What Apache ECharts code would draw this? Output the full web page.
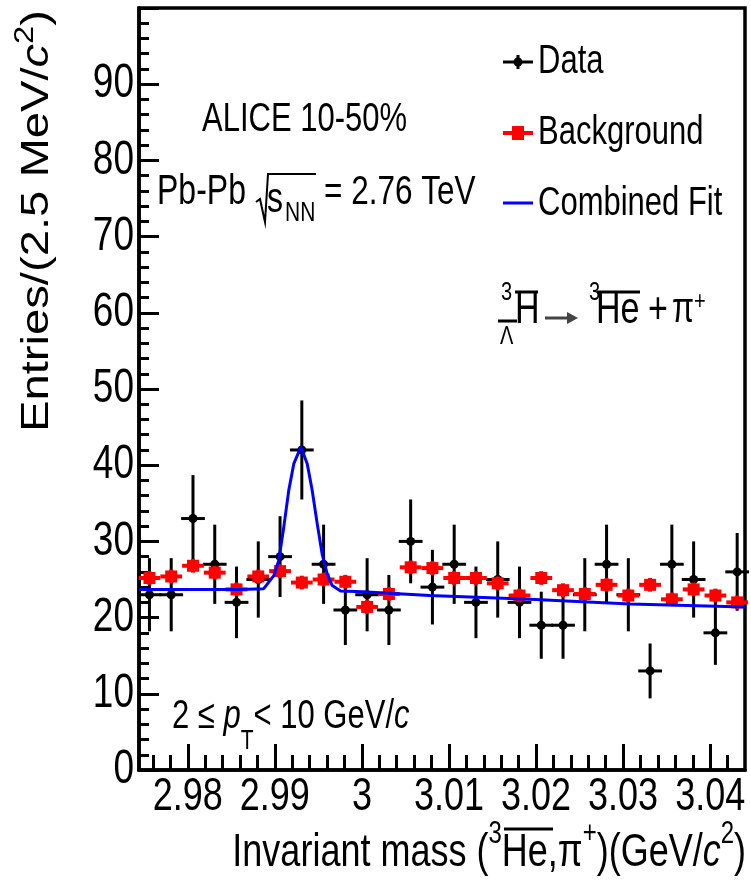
<!DOCTYPE html>
<html><head><meta charset="utf-8">
<script src="https://cdn.jsdelivr.net/npm/echarts@6/dist/echarts.min.js"></script>
<style>html,body{margin:0;padding:0;background:#fff}#c{width:751px;height:880px}</style>
</head><body><div id="c"></div>
<script>
// ---- data ----
const xCenters = [2.9756, 2.9781, 2.9806, 2.9831, 2.9856, 2.9881, 2.9906, 2.9931, 2.9956, 2.9981,
  3.0006, 3.0031, 3.0056, 3.0081, 3.0106, 3.0131, 3.0156, 3.0181, 3.0206, 3.0231,
  3.0256, 3.0281, 3.0306, 3.0331, 3.0356, 3.0381, 3.0406, 3.0431];
const dataCounts = [23, 23, 33, 27, 22, 25, 28, 42, 27, 21, 23, 21, 30, 24, 27, 22, 25, 22, 19, 19,
  23, 27, 23, 13, 27, 25, 18, 26];
const dataErr = [4.8, 4.8, 5.7, 5.2, 4.7, 5.0, 5.3, 6.5, 5.2, 4.6, 4.8, 4.6, 5.5, 4.9, 5.2, 4.7,
  5.0, 4.7, 4.4, 4.4, 4.8, 5.2, 4.8, 3.6, 5.2, 5.0, 4.2, 5.1];
const bkgValues = [25.2, 25.4, 26.8, 25.9, 23.7, 25.4, 26.1, 24.6, 25.0, 24.7, 21.4, 23.1, 26.6, 26.5,
  25.2, 25.2, 24.5, 22.9, 25.2, 23.6, 23.1, 24.3, 22.9, 24.3, 22.4, 23.7, 22.9, 22.0];
const bkgErr = [0.9, 0.9, 0.9, 0.9, 0.9, 0.9, 0.9, 0.9, 0.9, 0.9, 0.9, 0.9, 0.9, 0.9,
  0.9, 0.9, 0.9, 0.9, 0.9, 0.9, 0.9, 0.9, 0.9, 0.9, 0.9, 0.9, 0.9, 0.9];
const fitX = [2.9744, 2.9800, 2.9860, 2.98873, 2.98988, 2.99045, 2.99103, 2.99160, 2.99218, 2.99300,
  2.99372, 2.99429, 2.99487, 2.99544, 2.99602, 2.99659, 2.99755, 3.00009, 3.00780, 3.01010,
  3.01930, 3.03080, 3.04400];
const fitY = [23.7, 23.7, 23.7, 23.8, 25.5, 27.5, 31.9, 36.7, 40.2, 42.4,
  40.2, 36.7, 32.3, 28.3, 25.7, 24.2, 23.5, 23.4, 22.9, 22.8,
  22.4, 21.8, 21.4];
const xMajorTicks = [2.98, 2.99, 3.00, 3.01, 3.02, 3.03, 3.04];
const xMajorLabels = ['2.98', '2.99', '3', '3.01', '3.02', '3.03', '3.04'];
const xMinorTicks = [2.976, 2.978, 2.982, 2.984, 2.986, 2.988, 2.992, 2.994, 2.996, 2.998,
  3.002, 3.004, 3.006, 3.008, 3.012, 3.014, 3.016, 3.018, 3.022, 3.024, 3.026, 3.028,
  3.032, 3.034, 3.036, 3.038, 3.042];
const yMajorTicks = [0, 10, 20, 30, 40, 50, 60, 70, 80, 90];
const yMajorLabels = ['0', '10', '20', '30', '40', '50', '60', '70', '80', '90'];
const binWidth = 0.0025;
const xMin = 2.9744, xMax = 3.0440, yMin = 0, yMax = 100;

// ---- styling ----
const FONT = '"Liberation Sans", Arial, sans-serif';
const SY = 1.3;

function renderData(params, api) {
  const x = api.value(0), y = api.value(1), e = api.value(2);
  const c = api.coord([x, y]);
  const hi = api.coord([x, y + e]), lo = api.coord([x, y - e]);
  const l = api.coord([x - binWidth / 2, y]), r = api.coord([x + binWidth / 2, y]);
  return { type: 'group', children: [
    { type: 'line', shape: { x1: c[0], y1: hi[1], x2: c[0], y2: lo[1] }, style: { stroke: '#000', lineWidth: 3 } },
    { type: 'line', shape: { x1: l[0] - 1, y1: c[1], x2: r[0] + 1, y2: c[1] }, style: { stroke: '#000', lineWidth: 3 } },
    { type: 'circle', shape: { cx: c[0], cy: c[1], r: 4.5 }, style: { fill: '#000' } }
  ]};
}
function renderBkg(params, api) {
  const x = api.value(0), y = api.value(1), e = api.value(2);
  const c = api.coord([x, y]);
  const hi = api.coord([x, y + e]), lo = api.coord([x, y - e]);
  const l = api.coord([x - binWidth / 2, y]), r = api.coord([x + binWidth / 2, y]);
  return { type: 'group', children: [
    { type: 'line', shape: { x1: c[0], y1: hi[1], x2: c[0], y2: lo[1] }, style: { stroke: '#ff0000', lineWidth: 4 } },
    { type: 'line', shape: { x1: l[0], y1: c[1], x2: r[0], y2: c[1] }, style: { stroke: '#ff0000', lineWidth: 4 } },
    { type: 'rect', shape: { x: c[0] - 6, y: c[1] - 6, width: 12, height: 12 }, style: { fill: '#ff0000' } }
  ]};
}
function renderXLabel(params, api) {
  const p = api.coord([api.value(0), yMin]);
  return { type: 'text', x: p[0], y: p[1] + 27, scaleY: SY, silent: true,
    style: { text: xMajorLabels[params.dataIndex], fontSize: 36, fontFamily: FONT, fill: '#000', align: 'center', verticalAlign: 'middle' } };
}
function renderYLabel(params, api) {
  const p = api.coord([xMin, api.value(1)]);
  return { type: 'text', x: p[0] - 5, y: p[1], scaleY: SY, silent: true,
    style: { text: yMajorLabels[params.dataIndex], fontSize: 37, fontFamily: FONT, fill: '#000', align: 'right', verticalAlign: 'middle' } };
}

function txt(x, y, text, size, o) {
  o = o || {};
  const style = { text: text, fontSize: size, fontFamily: FONT, fill: '#000',
    align: o.align || 'left', verticalAlign: 'middle', fontStyle: o.italic ? 'italic' : 'normal' };
  if (o.rich) { style.rich = o.rich; style.lineHeight = o.lh; }
  return { type: 'text', x: x, y: y, rotation: o.rot || 0, scaleX: o.sx || 1, scaleY: o.sy || SY,
    silent: true, z: 100, style: style };
}
function ln(x1, y1, x2, y2, color, w) {
  return { type: 'line', silent: true, z: 100, shape: { x1: x1, y1: y1, x2: x2, y2: y2 }, style: { stroke: color, lineWidth: w } };
}

const graphics = [
  // y-axis title
  txt(37, 10, 'Entries/(2.5 MeV/{i|c}{s|2})', 39, { rot: Math.PI / 2, align: 'right', sx: 1.21, sy: 1, lh: 50,
    rich: { i: { fontStyle: 'italic', fontSize: 39, fontFamily: FONT, lineHeight: 50 }, s: { fontSize: 27, fontFamily: FONT, verticalAlign: 'top', lineHeight: 27 } } }),
  // x-axis title
  txt(746, 853, 'Invariant mass ({s3|3}He,π{sp|+})(GeV/{i|c}{s|2})', 36, { align: 'right', lh: 52,
    rich: { i: { fontStyle: 'italic', fontSize: 36, fontFamily: FONT, lineHeight: 52 },
            s: { fontSize: 24, fontFamily: FONT, verticalAlign: 'top', lineHeight: 24 },
            s3: { fontSize: 24, fontFamily: FONT, verticalAlign: 'top', lineHeight: 18 },
            sp: { fontSize: 24, fontFamily: FONT, verticalAlign: 'top', lineHeight: 36 } } }),
  ln(504, 829, 553, 829, '#000', 3),
  // annotations
  txt(202, 120, 'ALICE 10-50%', 31),
  txt(157, 193, 'Pb-Pb', 32),
  { type: 'polyline', silent: true, z: 100, shape: { points: [[256, 202], [260, 199], [265, 222], [268, 174], [316, 174]] },
    style: { stroke: '#000', lineWidth: 2, fill: null } },
  txt(267, 201, 's', 32),
  txt(285, 213, 'NN', 21),
  txt(324, 193, '= 2.76 TeV', 31.5),
  // decay
  txt(501, 293, '3', 20),
  txt(500, 337, 'Λ', 20),
  ln(498, 321, 517, 321, '#000', 3),
  txt(515, 311, 'H', 34),
  ln(515, 292, 538, 292, '#000', 3),
  ln(545, 318, 570, 318, '#444', 3),
  { type: 'polygon', silent: true, z: 100, shape: { points: [[567, 312], [578, 318], [567, 324]] }, style: { fill: '#444' } },
  txt(589, 293, '3', 20),
  txt(596, 311, 'He', 34),
  ln(597, 292, 640, 292, '#000', 3),
  txt(648, 311, '+', 34),
  txt(672, 311, 'π', 32),
  txt(694, 302, '+', 20),
  // pT range
  txt(172, 717, '2 ≤ {i|p}{sub|T}< 10 GeV/{i|c}', 31, { lh: 58,
    rich: { i: { fontStyle: 'italic', fontSize: 31, fontFamily: FONT, lineHeight: 58 },
            sub: { fontSize: 21, fontFamily: FONT, verticalAlign: 'bottom', lineHeight: 21 } } }),
  // legend
  ln(503, 62, 533, 62, '#000', 3),
  ln(518, 55, 518, 69, '#000', 3),
  { type: 'circle', silent: true, z: 100, shape: { cx: 518, cy: 62, r: 4.5 }, style: { fill: '#000' } },
  txt(538, 62, 'Data', 31),
  ln(503, 133, 533, 133, '#ff0000', 4),
  { type: 'rect', silent: true, z: 100, shape: { x: 512, y: 126, width: 12, height: 14 }, style: { fill: '#ff0000' } },
  txt(538, 133, 'Background', 31),
  ln(503, 203, 533, 203, '#0000ff', 3),
  txt(538, 204, 'Combined Fit', 31)
];

const chart = echarts.init(document.getElementById('c'), null, { renderer: 'canvas' });
chart.setOption({
  animation: false,
  backgroundColor: '#fff',
  grid: { left: 139, right: 6, top: 8, bottom: 110, show: true, borderColor: '#000', borderWidth: 3.5, containLabel: false },
  xAxis: [
    { type: 'value', min: xMin, max: xMax, position: 'bottom',
      axisLine: { show: true, onZero: false, lineStyle: { color: '#000', width: 3.5 } },
      axisTick: { show: true, inside: true, length: 26, customValues: xMajorTicks, lineStyle: { color: '#000', width: 3 } },
      axisLabel: { show: false }, splitLine: { show: false } },
    { type: 'value', min: xMin, max: xMax, position: 'bottom',
      axisLine: { show: false, onZero: false },
      axisTick: { show: true, inside: true, length: 15, customValues: xMinorTicks, lineStyle: { color: '#000', width: 3 } },
      axisLabel: { show: false }, splitLine: { show: false } }
  ],
  yAxis: { type: 'value', min: yMin, max: yMax, interval: 10,
    axisLine: { show: true, onZero: false, lineStyle: { color: '#000', width: 3.5 } },
    axisTick: { show: true, inside: true, length: 20, lineStyle: { color: '#000', width: 3 } },
    minorTick: { show: true, splitNumber: 5, length: 10, lineStyle: { color: '#000', width: 3 } },
    axisLabel: { show: false }, splitLine: { show: false } },
  series: [
    { type: 'custom', name: 'Data', renderItem: renderData, z: 2, silent: true,
      data: xCenters.map((x, i) => [x, dataCounts[i], dataErr[i]]) },
    { type: 'custom', name: 'Background', renderItem: renderBkg, z: 3, silent: true,
      data: xCenters.map((x, i) => [x, bkgValues[i], bkgErr[i]]) },
    { type: 'line', name: 'Combined Fit', z: 4, silent: true, showSymbol: false, smooth: false,
      lineStyle: { color: '#0000ff', width: 3 }, data: fitX.map((x, i) => [x, fitY[i]]) },
    { type: 'custom', renderItem: renderXLabel, clip: false, silent: true, z: 5,
      data: xMajorTicks.map(v => [v, yMin]) },
    { type: 'custom', renderItem: renderYLabel, clip: false, silent: true, z: 5,
      data: yMajorTicks.map(v => [xMin, v]) }
  ],
  graphic: graphics
});
</script></body></html>
